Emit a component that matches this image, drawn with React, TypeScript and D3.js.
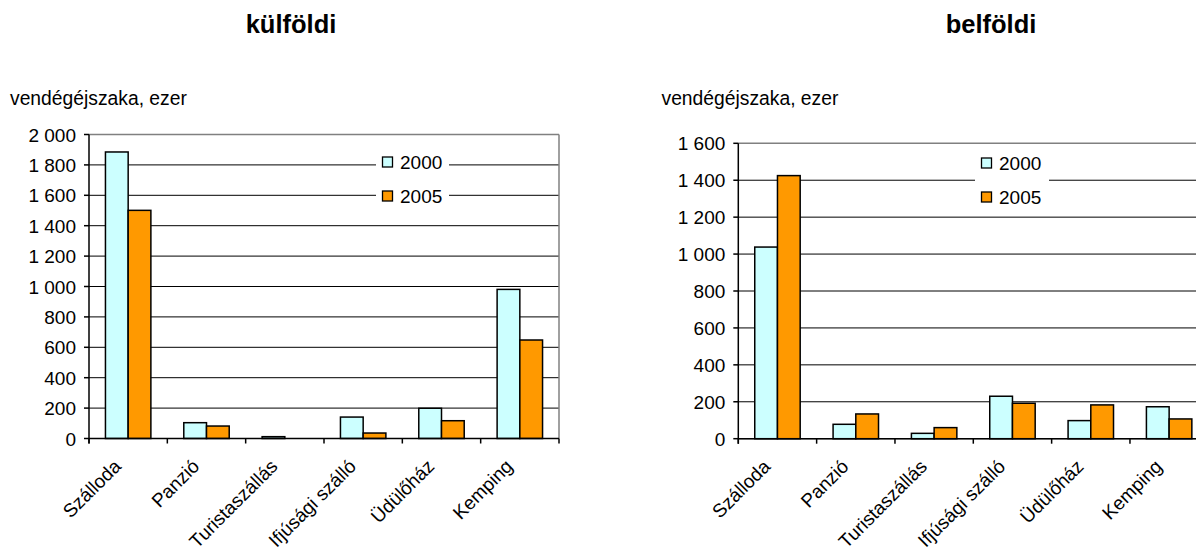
import React from "react";
import * as d3 from "d3";

const categories = ["Szálloda", "Panzió", "Turistaszállás", "Ifjúsági szálló", "Üdülőház", "Kemping"];
const seriesNames = ["2000", "2005"];
const kulfoldi2000 = [1885, 104, 12, 141, 199, 981];
const kulfoldi2005 = [1501, 82, 0, 36, 117, 648];
const belfoldi2000 = [1038, 78, 29, 230, 98, 173];
const belfoldi2005 = [1425, 134, 60, 192, 183, 107];
const kulfoldiTicks = [0, 200, 400, 600, 800, 1000, 1200, 1400, 1600, 1800, 2000];
const belfoldiTicks = [0, 200, 400, 600, 800, 1000, 1200, 1400, 1600];
const yLabel = "vendégéjszaka, ezer";

const colors = ["#CCFFFF", "#FF9900"];
const FONT = "'Liberation Sans', Arial, sans-serif";
const fmt = d3.formatLocale({ decimal: ",", thousands: " ", grouping: [3], currency: ["", ""] }).format(",d");

type ChartProps = {
  title: string;
  titleX: number;
  s1: number[];
  s2: number[];
  ticks: number[];
  x0: number;
  x1: number;
  y0: number;
  y1: number;
  labelX: number;
  legendX: number;
  legendY: number;
  legendW: number;
};

function Chart(p: ChartProps) {
  const max = p.ticks[p.ticks.length - 1];
  const y = d3.scaleLinear().domain([0, max]).range([p.y0, p.y1]);
  const x = d3.scaleBand<string>().domain(categories).range([p.x0, p.x1]).paddingInner(0).paddingOuter(0);
  const bw = x.bandwidth();
  const groupFrac = 0.58;
  const inner = d3.scaleBand<string>().domain(seriesNames).range([0, bw * groupFrac]);
  const off = (bw * (1 - groupFrac)) / 2;
  const series = [p.s1, p.s2];
  const boundaries = d3.range(categories.length + 1).map((i) => p.x0 + i * bw);

  return (
    <g>
      <text x={p.titleX} y={33} textAnchor="middle" fontFamily={FONT} fontWeight="bold" fontSize={25.5}>
        {p.title}
      </text>
      <text x={p.labelX} y={105} fontFamily={FONT} fontSize={19.3}>
        {yLabel}
      </text>
      {/* gridlines */}
      {p.ticks.map((t) => (
        <line
          key={"g" + t}
          x1={p.x0}
          x2={p.x1}
          y1={y(t)}
          y2={y(t)}
          stroke={t === max ? "#808080" : "#000"}
          strokeWidth={t === max ? 1.5 : 1}
        />
      ))}
      <line x1={p.x1} x2={p.x1} y1={p.y1} y2={p.y0} stroke="#808080" strokeWidth={1.5} />
      {/* legend */}
      <rect x={p.legendX} y={p.legendY} width={p.legendW} height={64} fill="#fff" />
      {seriesNames.map((s, i) => (
        <g key={"l" + s}>
          <rect
            x={p.legendX + 6.5}
            y={p.legendY + 10 + i * 34}
            width={10}
            height={10}
            fill={colors[i]}
            stroke="#000"
            strokeWidth={1.3}
          />
          <text x={p.legendX + 24} y={p.legendY + 21.5 + i * 34} fontFamily={FONT} fontSize={19}>
            {s}
          </text>
        </g>
      ))}
      {/* bars */}
      {categories.map((c, ci) => (
        <g key={"b" + c}>
          {series.map((arr, si) => (
            <rect
              key={si}
              x={(x(c) as number) + off + (inner(seriesNames[si]) as number)}
              y={y(arr[ci])}
              width={inner.bandwidth()}
              height={p.y0 - y(arr[ci])}
              fill={colors[si]}
              stroke="#000"
              strokeWidth={1.5}
            />
          ))}
        </g>
      ))}
      {/* axes */}
      <line x1={p.x0} x2={p.x0} y1={p.y1} y2={p.y0 + 5} stroke="#000" strokeWidth={1.5} />
      <line x1={p.x0} x2={p.x1} y1={p.y0} y2={p.y0} stroke="#000" strokeWidth={1.5} />
      {p.ticks.map((t) => (
        <g key={"t" + t}>
          <line x1={p.x0 - 5} x2={p.x0} y1={y(t)} y2={y(t)} stroke="#000" strokeWidth={1.5} />
          <text x={p.x0 - 13} y={y(t) + 7} textAnchor="end" fontFamily={FONT} fontSize={19}>
            {fmt(t)}
          </text>
        </g>
      ))}
      {boundaries.map((bx, i) => (
        <line key={"xt" + i} x1={bx} x2={bx} y1={p.y0} y2={p.y0 + 5} stroke="#000" strokeWidth={1.5} />
      ))}
      {categories.map((c) => (
        <text
          key={"xl" + c}
          transform={`translate(${(x(c) as number) + bw / 2 - 6},${p.y0 + 29}) rotate(-45)`}
          textAnchor="end"
          fontFamily={FONT}
          fontSize={19}
        >
          {c}
        </text>
      ))}
    </g>
  );
}

export default function App() {
  return (
    <svg width={1196} height={549} style={{ position: "absolute", left: 0, top: 0, background: "#fff" }}>
      <rect width={1196} height={549} fill="#fff" />
      <Chart
        title="külföldi"
        titleX={291}
        s1={kulfoldi2000}
        s2={kulfoldi2005}
        ticks={kulfoldiTicks}
        x0={89}
        x1={559}
        y0={438.5}
        y1={134.5}
        labelX={10}
        legendX={376}
        legendY={147}
        legendW={73}
      />
      <Chart
        title="belföldi"
        titleX={991}
        s1={belfoldi2000}
        s2={belfoldi2005}
        ticks={belfoldiTicks}
        x0={738.3}
        x1={1208.3}
        y0={438.7}
        y1={143.3}
        labelX={661.5}
        legendX={975}
        legendY={148}
        legendW={74}
      />
    </svg>
  );
}
